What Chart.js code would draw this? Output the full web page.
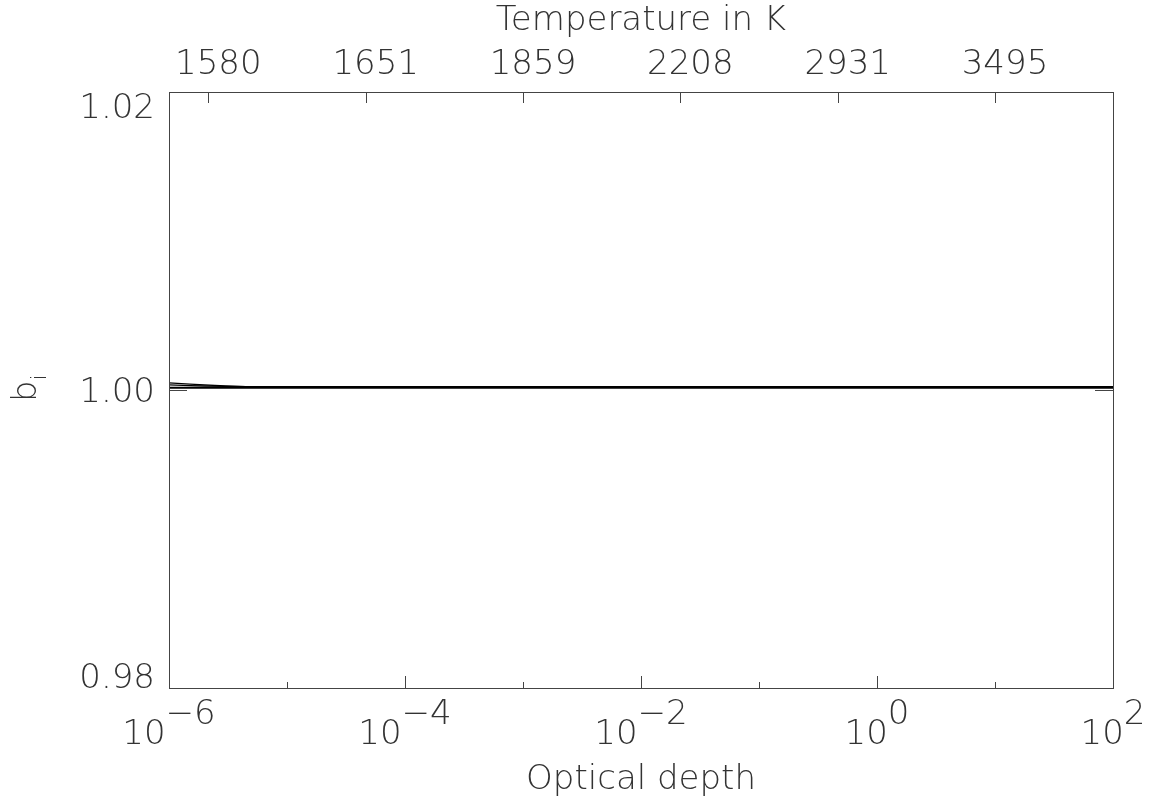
<!DOCTYPE html>
<html>
<head>
<meta charset="utf-8">
<title>b_i vs optical depth</title>
<script src="https://cdn.jsdelivr.net/npm/chart.js@4.4.1/dist/chart.umd.min.js"></script>
<style>
  html, body { margin: 0; padding: 0; background: #fff; }
  #wrap { width: 1158px; height: 809px; }
</style>
</head>
<body>
<div id="wrap"><canvas id="bi"></canvas></div>
<script>
// optical depth grid
const tau = [1e-6, 1.5e-6, 2e-6, 3e-6, 4.5e-6, 7e-6, 1e-5, 1e-4, 1e-3, 1e-2, 1e-1, 1, 10, 100];

// departure coefficients b_i, one array per level
const level1 = [1.00048, 1.00040, 1.00034, 1.00027, 1.00023, 1.00022, 1.00022, 1.00022, 1.00022, 1.00022, 1.00022, 1.00022, 1.00022, 1.00022];
const level2 = [1.00034, 1.00030, 1.00027, 1.00024, 1.00022, 1.00021, 1.00021, 1.00021, 1.00021, 1.00021, 1.00021, 1.00021, 1.00021, 1.00021];
const level3 = [1.00018, 1.00018, 1.00018, 1.00018, 1.00018, 1.00018, 1.00018, 1.00018, 1.00018, 1.00018, 1.00018, 1.00018, 1.00018, 1.00018];
const level4 = [1.00012, 1.00012, 1.00012, 1.00012, 1.00012, 1.00012, 1.00012, 1.00012, 1.00012, 1.00012, 1.00012, 1.00012, 1.00012, 1.00012];

// axis ticks
const depthExp = [-6, -5, -4, -3, -2, -1, 0, 1, 2];      // log10 tau, labelled when even
const tempTau = [2.154e-6, 4.642e-5, 1e-3, 2.154e-2, 0.4642, 10];
const tempLabels = ['1580', '1651', '1859', '2208', '2931', '3495'];
const yTicks = [0.98, 1.00, 1.02];
const yLabels = ['0.98', '1.00', '1.02'];

const FONT = "'DejaVu Sans', sans-serif";
const INK = '#333';

function series(vals) {
  return {
    data: tau.map((t, i) => ({ x: t, y: vals[i] })),
    borderColor: '#000',
    borderWidth: 1.3,
    pointRadius: 0,
    fill: false,
    tension: 0
  };
}

// frame, inward tick marks, exponent labels and the b_i title
const idlAxes = {
  id: 'idlAxes',
  afterDraw(chart) {
    const ctx = chart.ctx;
    const a = chart.chartArea;
    const x = chart.scales.x, x2 = chart.scales.x2, y = chart.scales.y;
    ctx.save();
    ctx.strokeStyle = '#444';
    ctx.lineWidth = 1;
    ctx.strokeRect(a.left + 0.5, a.top + 0.5, a.right - a.left, a.bottom - a.top);

    ctx.beginPath();
    depthExp.forEach(e => {
      const px = Math.round(x.getPixelForValue(Math.pow(10, e))) + 0.5;
      const len = e % 2 === 0 ? 12 : 6;
      ctx.moveTo(px, a.bottom);
      ctx.lineTo(px, a.bottom - len);
    });
    tempTau.forEach(t => {
      const px = Math.round(x2.getPixelForValue(t)) + 0.5;
      ctx.moveTo(px, a.top);
      ctx.lineTo(px, a.top + 11);
    });
    yTicks.forEach(v => {
      const py = Math.round(y.getPixelForValue(v)) + 0.5;
      ctx.moveTo(a.left, py);
      ctx.lineTo(a.left + 18, py);
      ctx.moveTo(a.right, py);
      ctx.lineTo(a.right - 18, py);
    });
    ctx.stroke();

    ctx.fillStyle = INK;
    const size = 34;
    const cap = size * 0.73;
    ctx.font = '200 ' + size + 'px ' + FONT;

    // y labels, the end ones kept inside the frame
    ctx.textAlign = 'right';
    ctx.textBaseline = 'alphabetic';
    yTicks.forEach((v, i) => {
      const py = y.getPixelForValue(v);
      let base = py + cap / 2;
      if (i === 0) base = py;
      if (i === yTicks.length - 1) base = py + cap + 1;
      ctx.fillText(yLabels[i], a.left - 14, base);
    });

    // 10^n labels under the even decades
    ctx.textAlign = 'left';
    depthExp.filter(e => e % 2 === 0).forEach(e => {
      const px = x.getPixelForValue(Math.pow(10, e));
      const mant = '10';
      const expo = e < 0 ? '\u2212' + Math.abs(e) : String(e);
      const wm = ctx.measureText(mant).width;
      const we = ctx.measureText(expo).width;
      const start = px - (wm + we) / 2;
      ctx.fillText(mant, start, a.bottom + 56);
      ctx.fillText(expo, start + wm, a.bottom + 36);
    });

    // b_i, rotated
    ctx.save();
    ctx.translate(36, 402);
    ctx.rotate(-Math.PI / 2);
    ctx.fillText('b', 0, 0);
    const wb = ctx.measureText('b').width;
    ctx.font = '200 22px ' + FONT;
    ctx.fillText('i', wb, 10);
    ctx.restore();

    ctx.restore();
  }
};

new Chart(document.getElementById('bi'), {
  type: 'line',
  data: {
    datasets: [series(level1), series(level2), series(level3), series(level4)]
  },
  options: {
    responsive: true,
    maintainAspectRatio: false,
    animation: false,
    devicePixelRatio: 1,
    layout: { padding: { right: 45, left: 0, top: 0, bottom: 0 } },
    plugins: {
      legend: { display: false },
      tooltip: { enabled: false }
    },
    scales: {
      x: {
        type: 'logarithmic',
        position: 'bottom',
        min: 1e-6,
        max: 1e2,
        afterBuildTicks: s => { s.ticks = depthExp.map(e => ({ value: Math.pow(10, e) })); },
        afterFit: s => { s.height = 121; },
        ticks: { display: false },
        grid: { display: false, drawTicks: false },
        border: { display: false },
        title: {
          display: true,
          text: 'Optical depth',
          color: INK,
          font: { family: FONT, size: 34, weight: 200 },
          padding: { top: 0, bottom: 8 }
        }
      },
      x2: {
        type: 'logarithmic',
        position: 'top',
        min: 1e-6,
        max: 1e2,
        afterBuildTicks: s => { s.ticks = tempTau.map(t => ({ value: t })); },
        afterFit: s => { s.height = 92; },
        ticks: {
          callback: (v, i) => tempLabels[i],
          color: INK,
          font: { family: FONT, size: 34, weight: 200 },
          labelOffset: 10,
          padding: 6,
          maxRotation: 0,
          autoSkip: false
        },
        grid: { display: false, drawTicks: false },
        border: { display: false },
        title: {
          display: true,
          text: 'Temperature in K',
          color: INK,
          font: { family: FONT, size: 34, weight: 200 },
          padding: { top: 1, bottom: 0 }
        }
      },
      y: {
        type: 'linear',
        min: 0.98,
        max: 1.02,
        afterBuildTicks: s => { s.ticks = yTicks.map(v => ({ value: v })); },
        afterFit: s => { s.width = 169; },
        ticks: { display: false },
        grid: { display: false, drawTicks: false },
        border: { display: false }
      }
    }
  },
  plugins: [idlAxes]
});
</script>
</body>
</html>
